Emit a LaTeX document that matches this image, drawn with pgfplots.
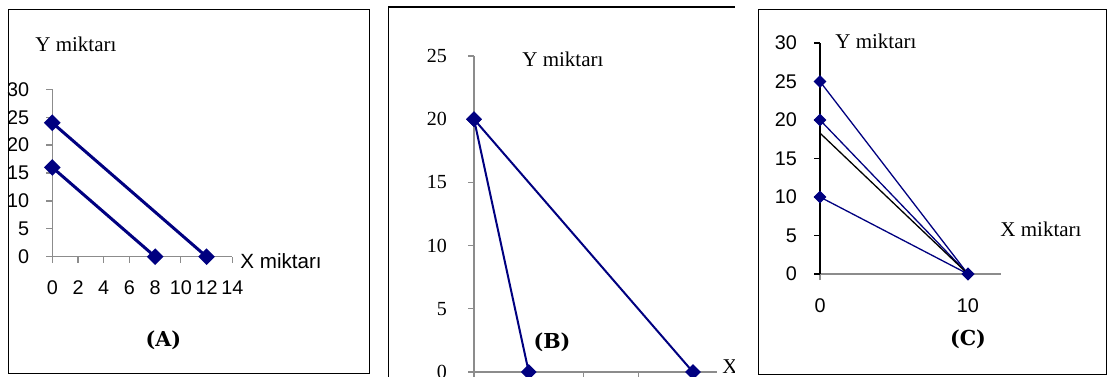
\documentclass[border=0pt]{standalone}
\usepackage{fontspec}
\setmainfont{Liberation Serif}
\newfontfamily\sansf{Liberation Sans}
\newfontfamily\panelf{DejaVu Serif}
\usepackage{pgfplots}
\pgfplotsset{compat=1.18}
\definecolor{navy}{HTML}{000080}
\definecolor{axgray}{HTML}{8C8C8C}

\pgfplotsset{
  budget/.style={
    scale only axis, axis lines=left,
    axis line style={-, draw=axgray, line width=0.6pt},
    tick align=outside, major tick length=3pt,
    tick style={axgray, line width=0.6pt},
    xmin=0, ymin=0, clip=false,
    /pgf/number format/assume math mode=true,
  },
  budgetline/.style={navy, mark=square*,
    mark options={rotate=45, fill=navy, draw=navy, solid}},
}

\begin{document}
\begin{tikzpicture}[x=0.5pt, y=0.5pt]
\path[use as bounding box] (0,0) rectangle (1108,376);
\clip (0,0) rectangle (1108,376);

% ---------- (A) ----------
\draw[line width=0.5pt] (8,3) rectangle (369,367);
\begin{axis}[budget,
  at={(26.15pt,59.65pt)}, anchor=origin,
  width=90pt, height=83.7pt,
  xmax=14, ymax=30,
  xtick={0,2,...,14}, ytick={0,5,...,30},
  ticklabel style={font=\sansf\fontsize{9.9}{11}\selectfont},
  xticklabel shift=5.5pt, yticklabel shift=5pt,
]
\addplot[budgetline, line width=1.5pt, mark size=2.2pt] coordinates {(0,24) (12,0)};
\addplot[budgetline, line width=1.5pt, mark size=2.2pt] coordinates {(0,16) (8,0)};
\end{axis}
\node[anchor=base west, inner sep=0pt, font=\fontsize{10.5}{12}\selectfont] at (35,324.3) {Y miktarı};
\node[anchor=base west, inner sep=0pt, font=\sansf\fontsize{10.3}{12}\selectfont] at (240,108) {X miktarı};
\node[anchor=base, inner sep=0pt, font=\panelf\bfseries\fontsize{10.3}{12}\selectfont] at (163.3,30) {(A)};

% ---------- (B) ----------
\draw[line width=0.5pt] (388,-10) -- (388,369) -- (760,369);
\begin{axis}[budget,
  at={(237pt,2pt)}, anchor=origin,
  width=121.5pt, height=158pt,
  xmax=22.2, ymax=25,
  xtick={0,5,...,20}, ytick={0,5,...,25},
  xticklabels={},
  ticklabel style={font=\fontsize{10}{12}\selectfont},
  yticklabel shift=7pt,
]
\addplot[budgetline, line width=1pt, mark size=2.3pt] coordinates {(0,20) (5,0)};
\addplot[budgetline, line width=1pt, mark size=2.3pt] coordinates {(0,20) (20,0)};
\end{axis}
\node[anchor=base west, inner sep=0pt, font=\fontsize{10.5}{12}\selectfont] at (522,310) {Y miktarı};
\node[anchor=base west, inner sep=0pt, font=\fontsize{10.5}{12}\selectfont] at (722,3) {X miktarı};
\node[anchor=base, inner sep=0pt, font=\panelf\bfseries\fontsize{10.3}{12}\selectfont] at (552,28) {(B)};

% ---------- (C) ----------
\fill[white] (735,-10) rectangle (1120,390);
\draw[line width=0.5pt] (758,2) rectangle (1106,367);
\begin{axis}[budget,
  at={(410pt,51pt)}, anchor=origin,
  width=90.25pt, height=115.5pt,
  xmax=12.2, ymax=30,
  xtick={0,10}, ytick={0,5,...,30},
  y axis line style={draw=black},
  ytick style={black},
  ticklabel style={font=\sansf\fontsize{9.9}{11}\selectfont},
  xticklabel shift=6pt, yticklabel shift=5pt,
]
\addplot[budgetline, line width=0.65pt, mark size=1.95pt] coordinates {(0,25) (10,0)};
\addplot[budgetline, line width=0.65pt, mark size=1.95pt] coordinates {(0,20) (10,0)};
\addplot[budgetline, line width=0.65pt, mark size=1.95pt] coordinates {(0,10) (10,0)};
\addplot[black, line width=0.65pt] coordinates {(0,18.3) (10,0)};
\end{axis}
\node[anchor=base west, inner sep=0pt, font=\fontsize{10.5}{12}\selectfont] at (835,327.7) {Y miktarı};
\node[anchor=base west, inner sep=0pt, font=\fontsize{10.5}{12}\selectfont] at (1000,140) {X miktarı};
\node[anchor=base, inner sep=0pt, font=\panelf\bfseries\fontsize{10.3}{12}\selectfont] at (968,31) {(C)};
\end{tikzpicture}
\end{document}
